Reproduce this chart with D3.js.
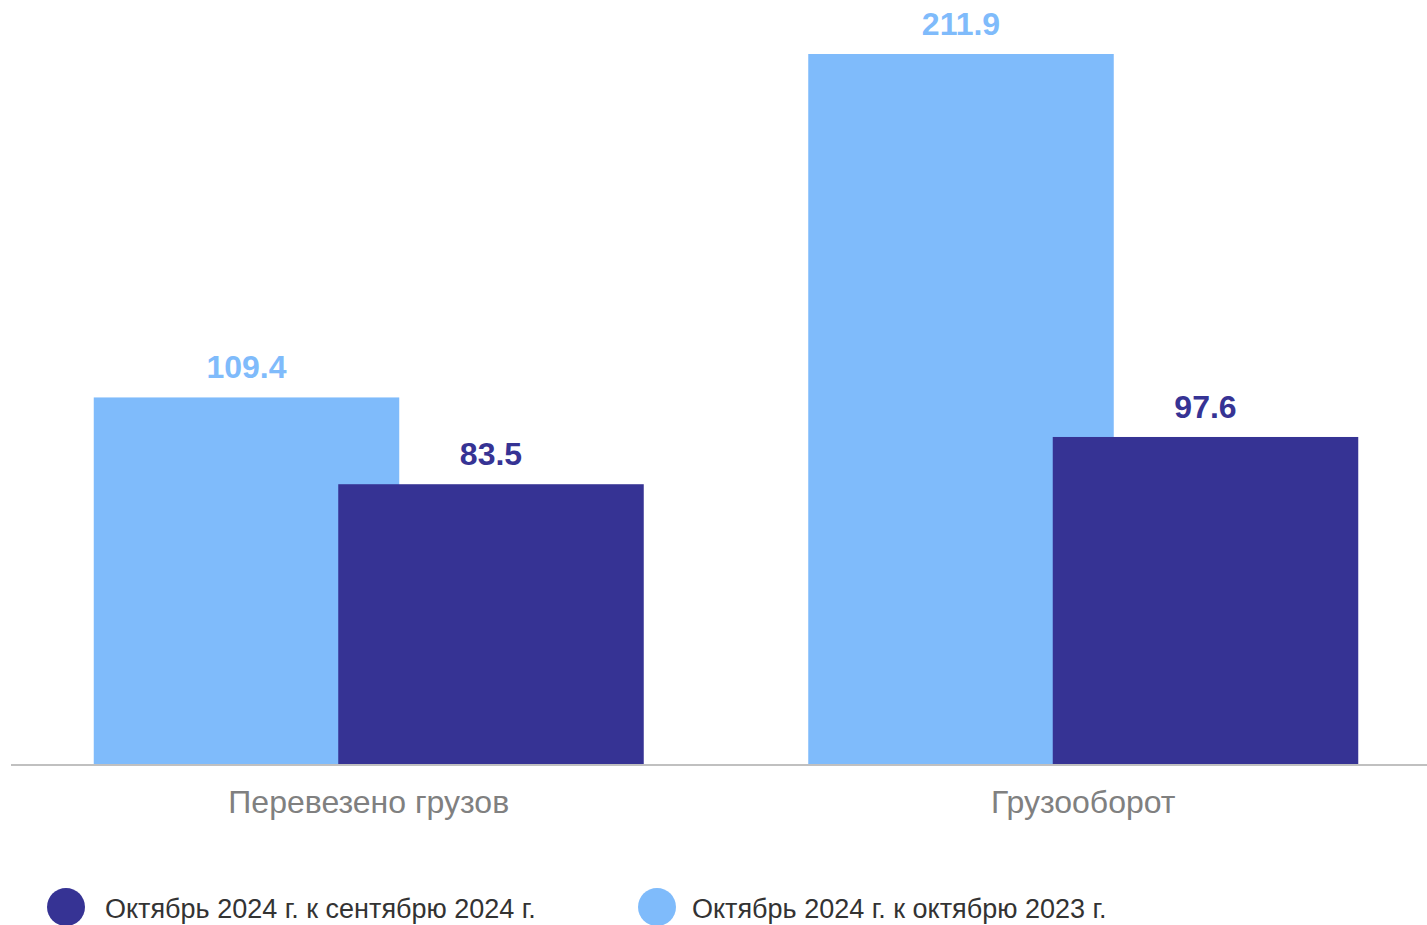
<!DOCTYPE html>
<html>
<head>
<meta charset="utf-8">
<script src="https://cdn.jsdelivr.net/npm/d3@7"></script>
<style>
    body { margin: 0; background: #fff; }
    svg { display: block; font-family: "Liberation Sans", Arial, sans-serif; }
</style>
</head>
<body>
<div id="chart"></div>
<script>
// chart data
const categories = ["Перевезено грузов", "Грузооборот"];
const seriesNames = ["Октябрь 2024 г. к октябрю 2023 г.", "Октябрь 2024 г. к сентябрю 2024 г."];
const seriesColors = ["#7fbbfb", "#363394"];
const valuesYearOnYear = [109.4, 211.9];
const valuesMonthOnMonth = [83.5, 97.6];
const legendOrder = [1, 0];

const width = 1427, height = 925;
const baseline = 764;

let svg = d3.select("#chart").append("svg").attr("width", width).attr("height", height);

let x = d3.scaleBand().domain(categories).range([11.5, 1440.5]).padding(0);
let y = d3.scaleLinear().domain([0, 211.9]).range([baseline, 54]);

// bars of the two series overlap a bit inside each group
const barWidth = 305.5;
let inner = d3.scalePoint().domain(seriesNames).range([-122.25, 122.25]);

let seriesValues = [valuesYearOnYear, valuesMonthOnMonth];

seriesNames.forEach(function (name, s) {
    let rows = categories.map(function (c, i) { return { cat: c, value: seriesValues[s][i] }; });
    let g = svg.append("g");
    g.selectAll("rect").data(rows).enter().append("rect")
        .attr("x", d => x(d.cat) + x.bandwidth() / 2 + inner(name) - barWidth / 2)
        .attr("y", d => y(d.value))
        .attr("width", barWidth)
        .attr("height", d => baseline - y(d.value))
        .attr("fill", seriesColors[s]);
    g.selectAll("text").data(rows).enter().append("text")
        .attr("x", d => x(d.cat) + x.bandwidth() / 2 + inner(name))
        .attr("y", d => y(d.value) - 19)
        .attr("text-anchor", "middle")
        .attr("font-size", "32px")
        .attr("font-weight", "bold")
        .attr("fill", seriesColors[s])
        .text(d => d.value.toFixed(1));
});

// baseline axis
svg.append("line")
    .attr("x1", 11).attr("x2", width)
    .attr("y1", baseline + 1).attr("y2", baseline + 1)
    .attr("stroke", "#c0c0c0").attr("stroke-width", 2);

svg.selectAll(".cat-label").data(categories).enter().append("text")
    .attr("class", "cat-label")
    .attr("x", d => x(d) + x.bandwidth() / 2)
    .attr("y", 813)
    .attr("text-anchor", "middle")
    .attr("font-size", "32px")
    .attr("fill", "#808080")
    .text(d => d);

// legend
const legendX = [66, 657];
let legend = svg.selectAll(".legend").data(legendOrder).enter().append("g")
    .attr("class", "legend")
    .attr("transform", (d, i) => "translate(" + legendX[i] + ",907)");
legend.append("circle").attr("r", 19).attr("fill", d => seriesColors[d]);
legend.append("text")
    .attr("x", (d, i) => i == 0 ? 39 : 35)
    .attr("y", 11)
    .attr("font-size", "27px")
    .attr("fill", "#333")
    .text(d => seriesNames[d]);
</script>
</body>
</html>
